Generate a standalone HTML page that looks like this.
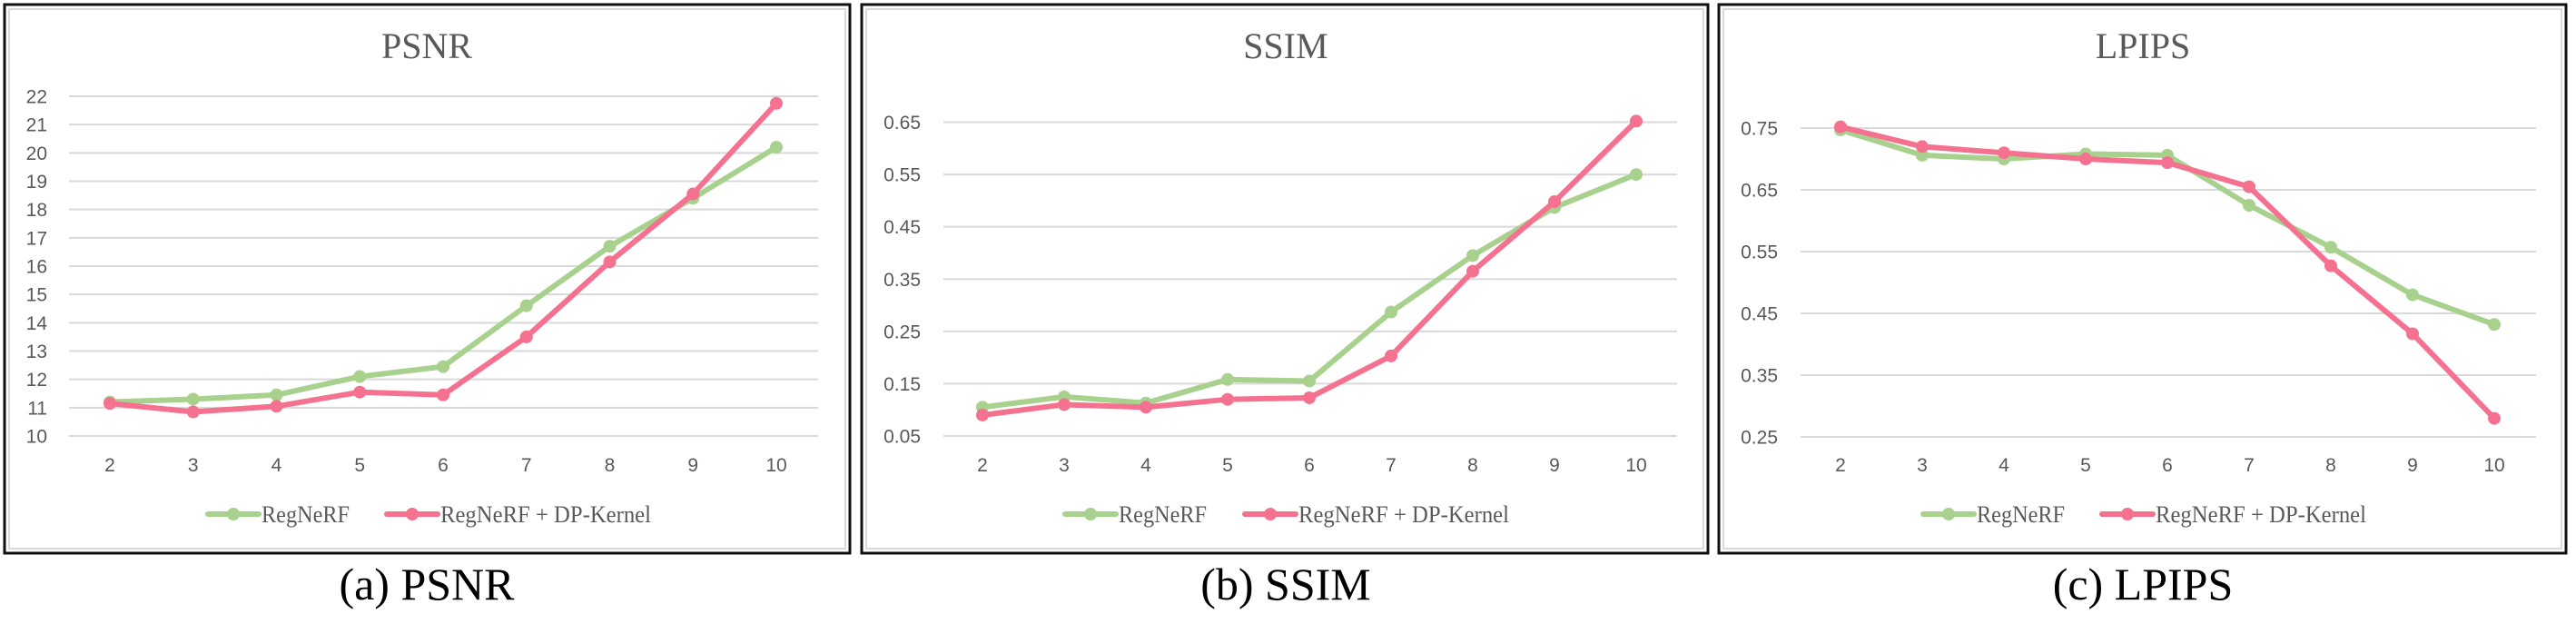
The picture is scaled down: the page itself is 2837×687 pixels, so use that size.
<!DOCTYPE html>
<html><head><meta charset="utf-8"><style>
html,body{margin:0;padding:0;background:#fff}
svg{display:block}
.tk{font-family:"Liberation Sans",sans-serif;font-size:21px;fill:#595959}
.lg{font-family:"Liberation Serif",serif;font-size:26px;fill:#595959}
.tt{font-family:"Liberation Serif",serif;font-size:40px;fill:#595959}
.cp{font-family:"Liberation Serif",serif;font-size:50px;fill:#000}
</style></head><body>
<svg id="fig" width="2837" height="687" viewBox="0 0 2837 687" xmlns="http://www.w3.org/2000/svg"></svg>
<script>
const categories = [2,3,4,5,6,7,8,9,10];
const psnrTicks = [10,11,12,13,14,15,16,17,18,19,20,21,22];
const psnrRegNeRF = [11.2,11.3,11.45,12.1,12.45,14.6,16.7,18.4,20.2];
const psnrDPKernel = [11.15,10.85,11.05,11.55,11.45,13.5,16.15,18.55,21.75];
const ssimTicks = [0.05,0.15,0.25,0.35,0.45,0.55,0.65];
const ssimRegNeRF = [0.105,0.125,0.113,0.158,0.155,0.287,0.395,0.487,0.55];
const ssimDPKernel = [0.09,0.11,0.105,0.12,0.123,0.203,0.365,0.498,0.652];
const lpipsTicks = [0.25,0.35,0.45,0.55,0.65,0.75];
const lpipsRegNeRF = [0.747,0.706,0.70,0.708,0.706,0.625,0.557,0.480,0.432];
const lpipsDPKernel = [0.752,0.720,0.710,0.700,0.694,0.655,0.527,0.417,0.280];

const NS='http://www.w3.org/2000/svg';
const svg=document.getElementById('fig');
function mk(tag,attrs,parent,text){const e=document.createElementNS(NS,tag);for(const k in attrs)e.setAttribute(k,attrs[k]);if(text!==undefined)e.textContent=text;(parent||svg).appendChild(e);return e;}
const GREEN='#a9d18e', RED='#f4728f';

const panels=[
 {key:'psnr',title:'PSNR',cap:'(a) PSNR',bx0:5,bx1:936,gx0:76,gx1:901,c0:121,c1:855,lr:52,ymin:10,ymax:22,yTop:106,yBot:480,ticks:psnrTicks,dec:0,g:psnrRegNeRF,r:psnrDPKernel,lg0:229,lr0:426,center:470},
 {key:'ssim',title:'SSIM',cap:'(b) SSIM',bx0:949,bx1:1881,gx0:1039,gx1:1847,c0:1082,c1:1802,lr:1014,ymin:0.05,ymax:0.65,yTop:134.5,yBot:480,ticks:ssimTicks,dec:2,g:ssimRegNeRF,r:ssimDPKernel,lg0:1173,lr0:1371,center:1416},
 {key:'lpips',title:'LPIPS',cap:'(c) LPIPS',bx0:1893,bx1:2826,gx0:1983,gx1:2793,c0:2027,c1:2747,lr:1958,ymin:0.25,ymax:0.75,yTop:141,yBot:481,ticks:lpipsTicks,dec:2,g:lpipsRegNeRF,r:lpipsDPKernel,lg0:2118,lr0:2315,center:2360}
];

panels.forEach(p=>{
 const grp=mk('g',{});
 
 
 const border=mk('rect',{x:p.bx0,y:5,width:p.bx1-p.bx0,height:604,fill:'#fff',stroke:'#111',"stroke-width":3},grp);
 
 
 mk('rect',{x:p.bx0+5,y:10,width:p.bx1-p.bx0-10,height:594,fill:'none',stroke:'#d9d9d9',"stroke-width":2},grp);
 const xs=i=>p.c0+(p.c1-p.c0)*(categories[i]-categories[0])/(categories[categories.length-1]-categories[0]);
 const ys=v=>p.yBot-(v-p.ymin)/(p.ymax-p.ymin)*(p.yBot-p.yTop);
 const t=mk('text',{x:p.center,y:64,"text-anchor":"middle",class:'tt',"font-family":"Liberation Serif, serif"},grp,p.title);
 
 
 p.ticks.forEach(v=>{
  const y=ys(v);
  const gl=mk('line',{x1:p.gx0,x2:p.gx1,y1:y,y2:y,stroke:'#d9d9d9',"stroke-width":2},grp);
  
  
  const tl=mk('text',{x:p.lr,y:y+7.5,"text-anchor":"end",class:'tk'},grp,v.toFixed(p.dec));
  
  
 });
 categories.forEach((c,i)=>{
  const xl=mk('text',{x:xs(i),y:519,"text-anchor":"middle",class:'tk'},grp,String(c));
  
  
 });
 [[p.g,GREEN,'regnerf'],[p.r,RED,'dp-kernel']].forEach(([vals,col,nm])=>{
  const pts=vals.map((v,i)=>xs(i)+','+ys(v)).join(' ');
  const pl=mk('polyline',{points:pts,fill:'none',stroke:col,"stroke-width":6,"stroke-linejoin":"round","stroke-linecap":"round"},grp);
  
  
  vals.forEach((v,i)=>{
   const c=mk('circle',{cx:xs(i),cy:ys(v),r:7,fill:col},grp);
   
   
  });
 });
 [[p.lg0,GREEN,'RegNeRF',97,'regnerf'],[p.lr0,RED,'RegNeRF + DP-Kernel',232,'dp-kernel']].forEach(([x,col,lab,w,nm])=>{
  const lg=mk('g',{},grp);
  
  
  mk('line',{x1:x,x2:x+56,y1:566,y2:566,stroke:col,"stroke-width":6,"stroke-linecap":"round"},lg);
  mk('circle',{cx:x+28,cy:566,r:7,fill:col},lg);
  mk('text',{x:x+59,y:575,class:'lg',textLength:w,lengthAdjust:'spacingAndGlyphs'},lg,lab);
 });
 const cp=mk('text',{x:p.center,y:660,"text-anchor":"middle",class:'cp',"font-family":"Liberation Serif, serif"},svg,p.cap);
 
 
});
</script>
</body></html>
